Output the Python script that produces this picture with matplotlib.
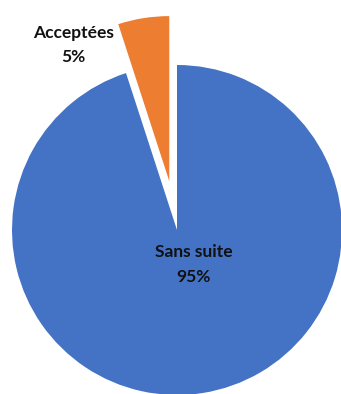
import matplotlib.pyplot as plt

# Data
categories = ['Sans suite', 'Acceptées']
values = [95, 5]
colors = ['#4472C4', '#ED7D31']

plt.rcParams['font.family'] = ['Lato', 'DejaVu Sans']

fig = plt.figure(figsize=(3.41, 3.94), dpi=100)
ax = fig.add_axes([0, 0, 1, 1])

wedges, _ = ax.pie(values, colors=colors, startangle=90, counterclock=False,
                   explode=[0, 0.3], radius=1.0,
                   wedgeprops=dict(linewidth=0))

# Labels
total = sum(values)
label_pos = [(0.10, -0.21), (-0.63, 1.12)]
for name, v, (x, y) in zip(categories, values, label_pos):
    ax.text(x, y, f"{name}\n{round(100 * v / total)}%", ha='center', va='center',
            fontsize=12.5, fontweight='bold', color='#111111', linespacing=1.65)

ax.set_xlim(-177 / 165, (341 - 177) / 165)
ax.set_ylim(-164 / 165, (394 - 164) / 165)
ax.set_aspect('auto')
ax.axis('off')

fig.savefig('out.png', dpi=100)
